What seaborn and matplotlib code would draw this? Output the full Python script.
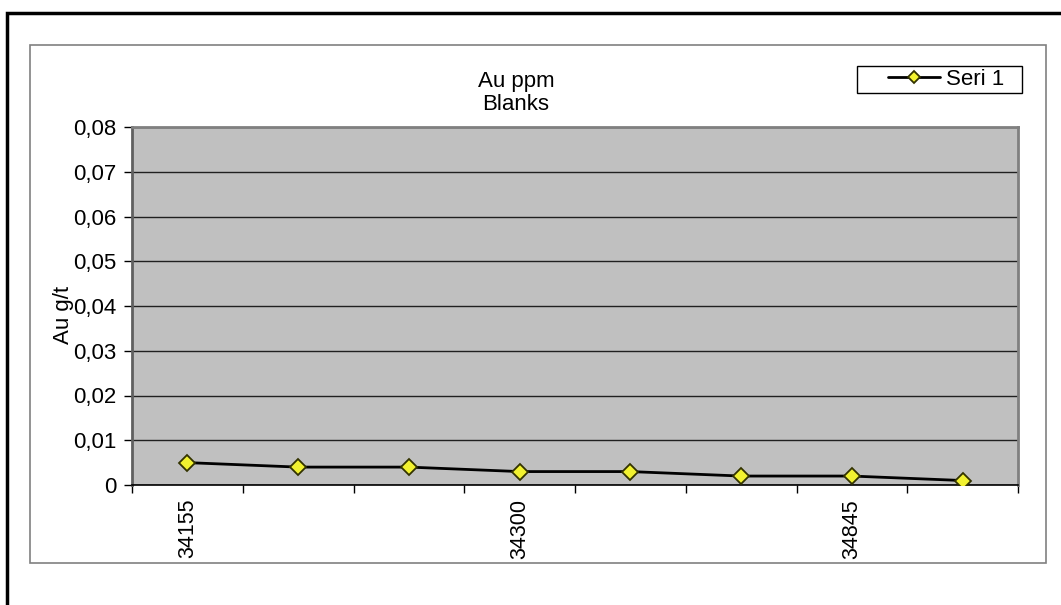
import matplotlib
matplotlib.use("Agg")
import matplotlib.pyplot as plt
import seaborn as sns
import pandas as pd
from matplotlib.patches import Rectangle
from matplotlib.ticker import FuncFormatter, FixedLocator

# Data
tick_labels = ["34155", "", "", "34300", "", "", "34845", ""]
values = [0.005, 0.004, 0.004, 0.003, 0.003, 0.002, 0.002, 0.001]
series_name = "Seri 1"
title = "Au ppm\nBlanks"
ylabel = "Au g/t"

sns.set_style("white")
plt.rcParams['font.family'] = ['Liberation Sans', 'DejaVu Sans']
plt.rcParams['text.color'] = 'black'
plt.rcParams['xtick.color'] = 'black'
plt.rcParams['ytick.color'] = 'black'
plt.rcParams['axes.labelcolor'] = 'black'

W, H = 1061, 605
fig = plt.figure(figsize=(W / 100, H / 100), dpi=100)
FS = 16

def fx(px):
    return px / W

def fy(py):
    return 1 - py / H

# outer border (extends beyond image bottom/right)
fig.patches.append(Rectangle((fx(7), fy(700)), fx(1100 - 7), fy(13) - fy(700),
                             transform=fig.transFigure, fill=False,
                             edgecolor="black", linewidth=2.5, zorder=0))
# chart area border
fig.patches.append(Rectangle((fx(30), fy(563)), fx(1046 - 30), fy(45) - fy(563),
                             transform=fig.transFigure, fill=False,
                             edgecolor="#808080", linewidth=1.2, zorder=0))
# legend frame
fig.patches.append(Rectangle((fx(857), fy(93)), fx(1022 - 857), fy(66) - fy(93),
                             transform=fig.transFigure, fill=False,
                             edgecolor="black", linewidth=1, zorder=1))

ax = fig.add_axes([fx(132), fy(485), fx(1018 - 132), fy(127) - fy(485)])
ax.set_facecolor("#c0c0c0")

df = pd.DataFrame({"pos": list(range(len(values))), "val": values})
sns.lineplot(data=df, x="pos", y="val", ax=ax, color="black", linewidth=2,
             marker="D", markersize=8.5, markerfacecolor="#f2f230",
             markeredgecolor="#333300", markeredgewidth=1.3,
             label=series_name, legend=False, zorder=5)

ax.set_xlim(-0.5, len(values) - 0.5)
ax.set_ylim(0, 0.08)
ax.set_yticks([i / 100 for i in range(9)])
ax.yaxis.set_major_formatter(FuncFormatter(
    lambda v, p: "0" if abs(v) < 1e-9 else f"{v:.2f}".replace(".", ",")))
ax.yaxis.grid(True, color="#202020", linewidth=1)
ax.set_axisbelow(True)

# x: boundary tick marks, labels at category centres
ax.xaxis.set_major_locator(FixedLocator([i - 0.5 for i in range(len(values) + 1)]))
ax.xaxis.set_major_formatter(FuncFormatter(lambda v, p: ""))
ax.xaxis.set_minor_locator(FixedLocator(list(range(len(values)))))
ax.set_xticklabels(tick_labels, minor=True, rotation=90)
ax.tick_params(axis="x", which="major", direction="out", length=6, width=1,
               color="black", bottom=True)
ax.tick_params(axis="x", which="minor", length=0, labelsize=15.5, pad=10,
               labelcolor="black")
ax.tick_params(axis="y", direction="out", length=6, width=1, color="black",
               left=True, labelsize=FS, pad=5, labelcolor="black")

for side in ["top", "right", "left"]:
    ax.spines[side].set_color("#808080")
    ax.spines[side].set_linewidth(2)
ax.spines["left"].set_color("#606060")
ax.spines["bottom"].set_color("black")
ax.spines["bottom"].set_linewidth(1.2)

ax.set_xlabel("")
ax.set_ylabel("")
fig.text(fx(63), fy(315), ylabel, rotation=90, ha="center", va="center",
         fontsize=FS, color="black")
fig.text(fx(516), fy(93), title, ha="center", va="center", fontsize=FS,
         linespacing=1.15, color="black")

# legend
handles, labels = ax.get_legend_handles_labels()
leg = fig.legend(handles, labels, loc="center left", bbox_to_anchor=(fx(888), fy(79.5)),
                 frameon=False, fontsize=FS, handlelength=2.35,
                 borderpad=0, handletextpad=0.27, borderaxespad=0,
                 labelcolor="black")
for line in leg.get_lines():
    line.set_markersize(6.5)

fig.savefig("out.png", dpi=100)
